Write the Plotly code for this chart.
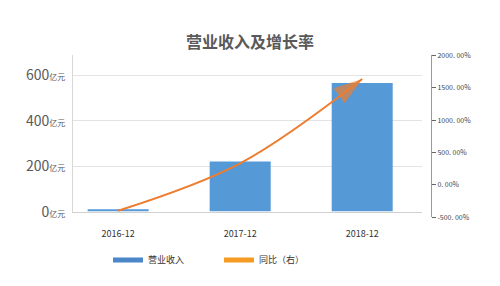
import plotly.graph_objects as go

categories = ["2016-12", "2017-12", "2018-12"]
revenue = [10, 220, 566]           # 亿元
yoy_curve = [-398, 333, 1634]      # 同比（右）, %

left_ticks = [0, 200, 400, 600]
right_ticks = [-500, 0, 500, 1000, 1500, 2000]
right_ticktext = [f"{v}. 00%" for v in right_ticks]

FONT = "Noto Sans CJK SC, Microsoft YaHei, sans-serif"
BLUE = "#5599d6"
ORANGE = "#ed7d31"

fig = go.Figure()
fig.add_trace(go.Bar(
    x=categories, y=revenue, width=0.5, name="营业收入",
    marker=dict(color=BLUE, line=dict(width=0)), showlegend=False,
    xaxis="x", yaxis="y"))
fig.add_trace(go.Scatter(
    x=categories, y=yoy_curve, mode="lines+markers", name="同比（右）",
    line=dict(color=ORANGE, width=2, shape="spline", smoothing=1.0),
    marker=dict(symbol=["circle", "circle", "arrow"], size=[0, 0, 30],
                angleref="previous", color=ORANGE,
                line=dict(width=0, color=ORANGE)),
    showlegend=False, xaxis="x", yaxis="y2"))
# legend entries
fig.add_trace(go.Scatter(x=[categories[0]], y=[None], mode="lines", name="营业收入",
                         line=dict(color="#4a86c8", width=5), xaxis="x", yaxis="y"))
fig.add_trace(go.Scatter(x=[categories[0]], y=[None], mode="lines", name="同比（右）",
                         line=dict(color="#f59a23", width=5), xaxis="x", yaxis="y"))

H = 286.0
fig.update_layout(
    width=500, height=286, margin=dict(l=0, r=0, t=0, b=0),
    paper_bgcolor="white", plot_bgcolor="rgba(0,0,0,0)",
    font=dict(family=FONT, color="#333"),
    title=dict(text="<b>营业收入及增长率</b>", x=0.5, xanchor="center",
               y=1 - 42 / H, yanchor="middle",
               font=dict(size=16, color="#595959", family=FONT)),
    xaxis=dict(type="category", categoryorder="array", categoryarray=categories,
               domain=[73 / 500, 422 / 500], range=[-0.37, 2.49],
               showgrid=False, showline=True, linecolor="#d0d0d0",
               ticks="", tickfont=dict(size=9, color="#333"),
               ticklabelstandoff=14,
               anchor="y", zeroline=False),
    yaxis=dict(domain=[(H - 217) / H, (H - 52) / H], range=[0, 687.5],
               tickvals=left_ticks,
               ticktext=[f"{v}<span style='font-size:8px'>亿元</span>" for v in left_ticks],
               tickfont=dict(size=14, color="#595959"),
               showgrid=True, gridcolor="#e3e3e3", gridwidth=1,
               showline=True, linecolor="#d8d8d8", zeroline=False,
               ticks="", ticklabelstandoff=4),
    yaxis2=dict(domain=[(H - 223) / H, (H - 52) / H], range=[-500, 2000],
                anchor="free", position=431 / 500, side="right",
                tickvals=right_ticks, ticktext=right_ticktext,
                tickfont=dict(size=7, color="#444444"),
                showgrid=False, showline=True, linecolor="#999999",
                ticks="outside", ticklen=4, tickcolor="#666666",
                zeroline=False),
    legend=dict(orientation="h", x=108 / 500, xanchor="left",
                y=(H - 268) / H, yanchor="middle",
                font=dict(size=9, color="#333"), entrywidth=66,
                itemwidth=30, bgcolor="rgba(0,0,0,0)"),
    showlegend=True,
)

fig.write_html("out.html")
